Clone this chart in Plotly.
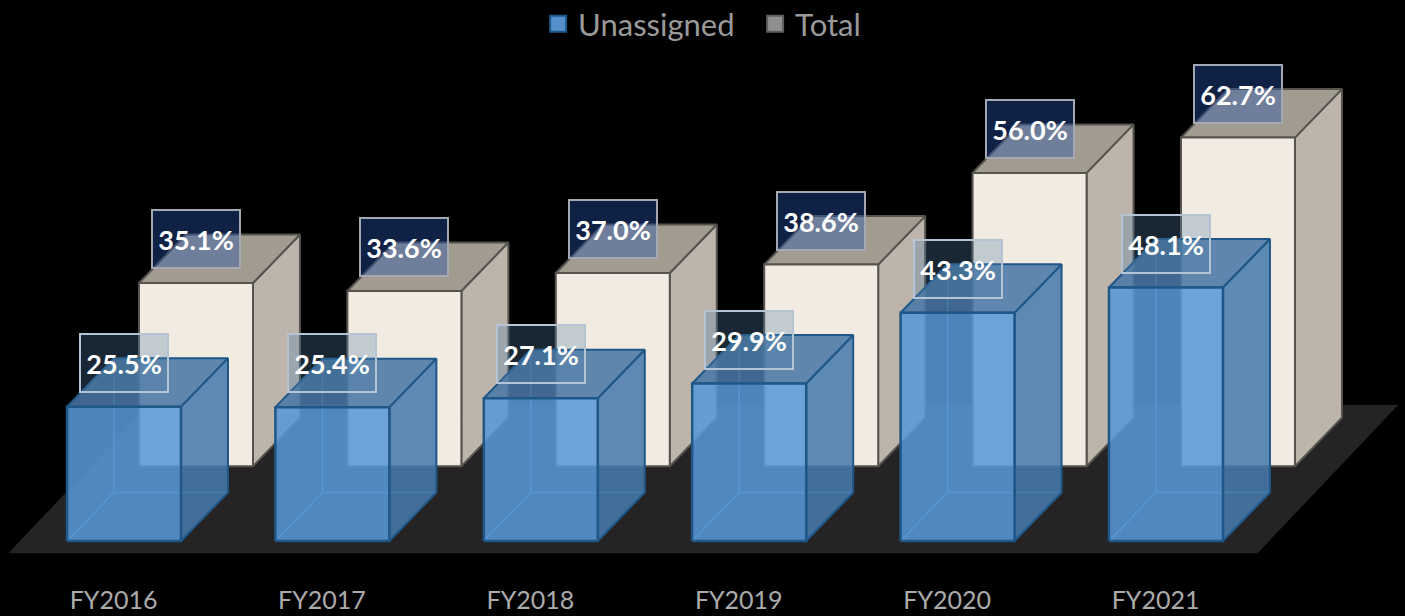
import plotly.graph_objects as go

categories = ["FY2016", "FY2017", "FY2018", "FY2019", "FY2020", "FY2021"]
unassigned = [25.5, 25.4, 27.1, 29.9, 43.3, 48.1]
total = [35.1, 33.6, 37.0, 38.6, 56.0, 62.7]

# Oblique-projection settings, in axis units
W = 0.547          # bar width
DX, DY = 0.2255, 9.2   # depth of a bar
TX, TY0, TYB = 0.3455, 13.85, 14.2  # rear row offset: x, zero level, visible foot
LABEL_DY = 8.3


def rect_path(rects):
    xs, ys = [], []
    for r in rects:
        xs += [p[0] for p in r] + [r[0][0], None]
        ys += [p[1] for p in r] + [r[0][1], None]
    return xs, ys


def box_faces(values, x0, zero, foot):
    front, side, top = [], [], []
    for i, v in enumerate(values):
        l, rt = i + x0 - W / 2, i + x0 + W / 2
        t = zero + v
        front.append([(l, foot), (rt, foot), (rt, t), (l, t)])
        side.append([(rt, foot), (rt + DX, foot + DY), (rt + DX, t + DY), (rt, t)])
        top.append([(l, t), (rt, t), (rt + DX, t + DY), (l + DX, t + DY)])
    return front, side, top


def poly(rects, fill, line, width):
    xs, ys = rect_path(rects)
    return go.Scatter(x=xs, y=ys, mode="lines", fill="toself", fillcolor=fill,
                      line=dict(color=line, width=width), showlegend=False,
                      hoverinfo="skip")


fig = go.Figure()

# floor
fig.add_trace(poly([[(-0.555, -2.3), (5.44, -2.3), (6.114, 25.8), (0.12, 25.8)]],
                   "#252323", "#252323", 0))

# rear row: Total
tf, ts, tt = box_faces(total, TX, TY0, TYB)
fig.add_trace(poly(ts, "#bdb5ac", "#56544f", 2))
fig.add_trace(poly(tt, "#a19b90", "#56544f", 2))
fig.add_trace(poly(tf, "#f2ebe1", "#56544f", 2))

# front row: Unassigned, translucent
uf, us, ut = box_faces(unassigned, 0, 0, 0)
ex, ey = [], []
for i, v in enumerate(unassigned):
    l, rt = i - W / 2, i + W / 2
    ex += [l, l + DX, l + DX, None, l + DX, rt + DX, None]
    ey += [0, DY, v + DY, None, DY, DY, None]
fig.add_trace(go.Scatter(x=ex, y=ey, mode="lines", showlegend=False, hoverinfo="skip",
                         line=dict(color="rgba(85,150,215,0.9)", width=1.5)))
fig.add_trace(poly(us, "rgba(71,122,172,0.87)", "#1f5788", 2))
fig.add_trace(poly(ut, "rgba(72,118,165,0.87)", "#1f5788", 2))
fig.add_trace(poly(uf, "rgba(88,152,215,0.87)", "#1f5788", 2.5))

# legend keys
fig.add_trace(go.Scatter(x=[None], y=[None], mode="markers", name="Unassigned",
                         marker=dict(symbol="square", size=16, color="#5590cc",
                                     line=dict(color="#1f5788", width=2))))
fig.add_trace(go.Scatter(x=[None], y=[None], mode="markers", name="Total",
                         marker=dict(symbol="square", size=16, color="#8f8f8f",
                                     line=dict(color="#5f5f5f", width=2))))

LABEL_FONT = dict(family="Lato, sans-serif", size=27, color="#ffffff")
for i, v in enumerate(total):
    fig.add_annotation(x=i + TX, y=TY0 + v + LABEL_DY, xref="x", yref="y",
                       text=f"<b>{v:.1f}%</b>", showarrow=False, font=LABEL_FONT,
                       width=84, height=54, borderwidth=2, borderpad=1,
                       bgcolor="rgba(37,82,172,0.40)", bordercolor="#a3a8b2",
                       align="center", valign="middle")
for i, v in enumerate(unassigned):
    fig.add_annotation(x=i, y=v + LABEL_DY, xref="x", yref="y",
                       text=f"<b>{v:.1f}%</b>", showarrow=False, font=LABEL_FONT,
                       width=84, height=54, borderwidth=2, borderpad=1,
                       bgcolor="rgba(80,130,170,0.30)", bordercolor="#b4c4d4",
                       align="center", valign="middle")

fig.update_layout(
    width=1405, height=616,
    margin=dict(l=0, r=0, t=0, b=40, pad=0, autoexpand=False),
    paper_bgcolor="#000000", plot_bgcolor="#000000",
    showlegend=True,
    legend=dict(orientation="h", x=0.383, xanchor="left", y=1.005, yanchor="top",
                bgcolor="rgba(0,0,0,0)",
                font=dict(family="Lato, sans-serif", size=31, color="#9a9a9a"),
                entrywidth=172, entrywidthmode="pixels",
                itemwidth=30, tracegroupgap=0),
    xaxis=dict(range=[-0.595, 6.147], showgrid=False, zeroline=False, showline=False,
               automargin=False,
               tickmode="array", tickvals=[i - 0.05 for i in range(len(categories))],
               ticktext=categories, ticks="", ticklabelstandoff=7,
               tickfont=dict(family="Lato, sans-serif", size=25, color="#ababab")),
    yaxis=dict(range=[-6.64, 102.66], visible=False),
)

fig.write_html(
    "out.html",
    config={"displayModeBar": False},
    post_script="document.body.style.margin='0';document.body.style.background='#000';",
)
